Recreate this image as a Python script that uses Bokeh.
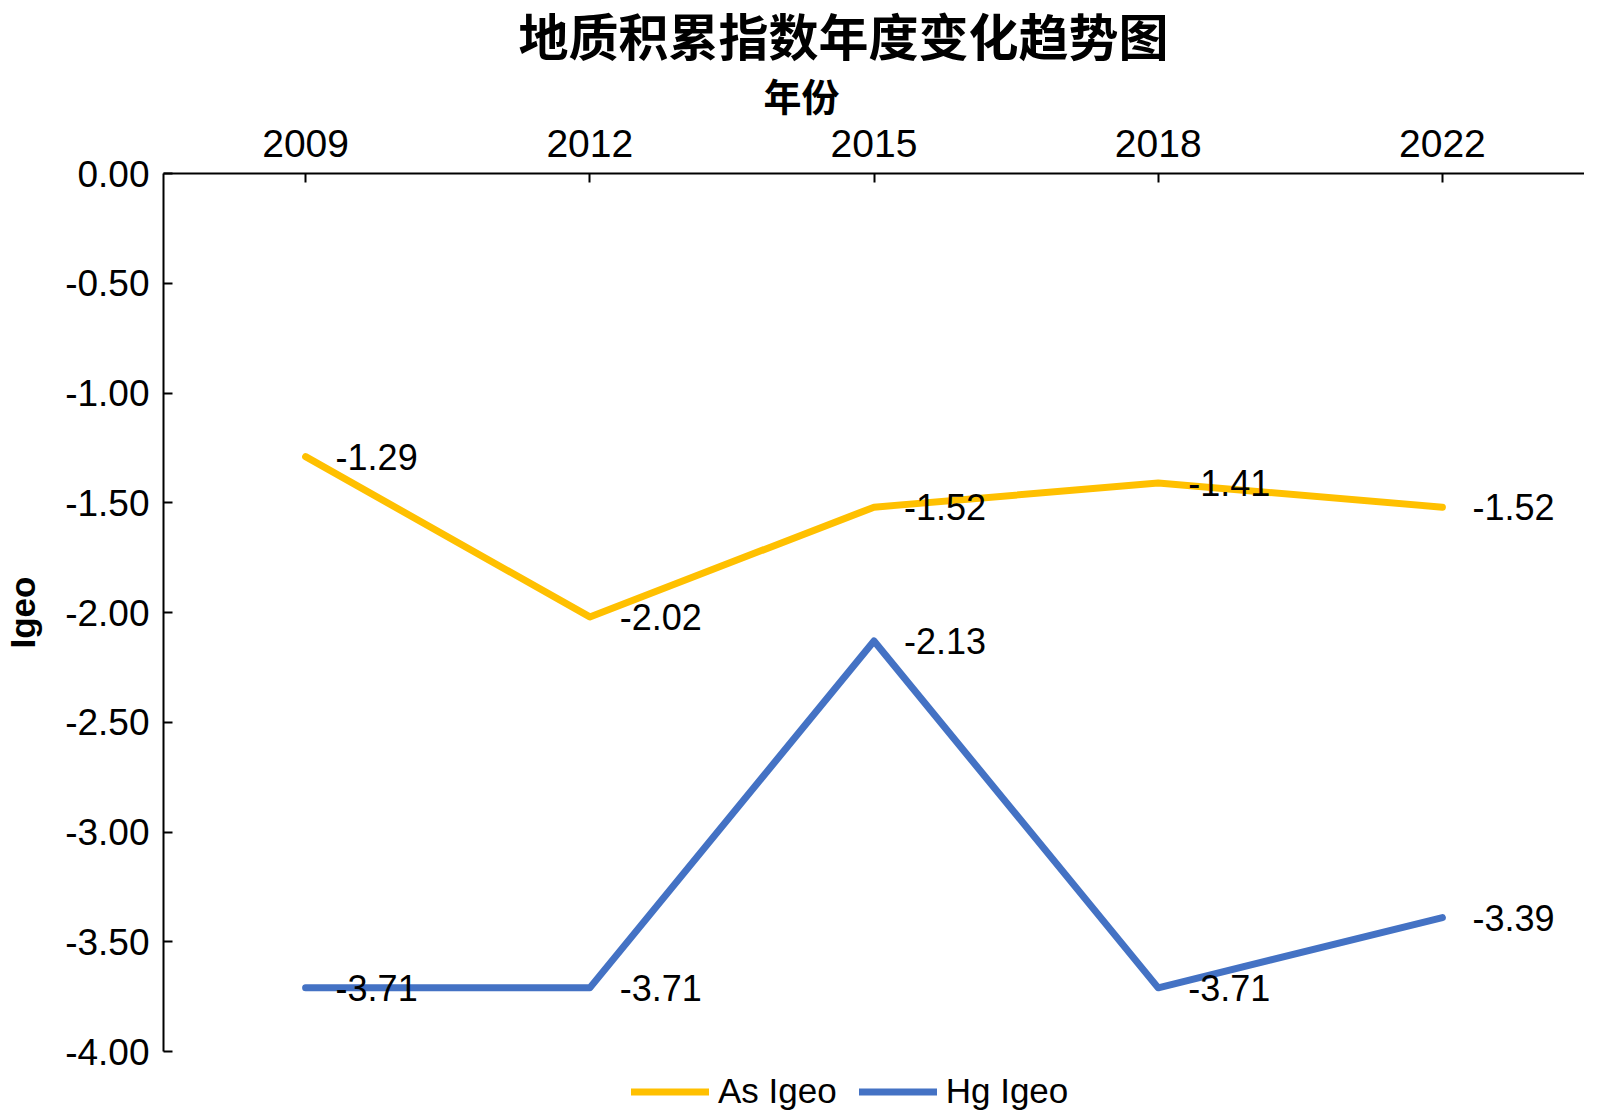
from bokeh.plotting import figure
from bokeh.layouts import column
from bokeh.models import (FactorRange, Range1d, ColumnDataSource, LabelSet, Legend,
                          LegendItem, Title, FixedTicker, NumeralTickFormatter)
from bokeh.core.properties import value
from bokeh.embed import file_html
from bokeh.resources import INLINE

# ---- data ----
years = ["2009", "2012", "2015", "2018", "2022"]
as_igeo = [-1.29, -2.02, -1.52, -1.41, -1.52]
hg_igeo = [-3.71, -3.71, -2.13, -3.71, -3.39]
y_ticks = [0.0, -0.5, -1.0, -1.5, -2.0, -2.5, -3.0, -3.5, -4.0]
y_min, y_max = -4.0, 0.0
series_names = ["As Igeo", "Hg Igeo"]
series_colors = ["#FFC000", "#4472C4"]
title_text = "地质积累指数年度变化趋势图"
x_title = "年份"
y_title = "Igeo"

NUM_FONT = "Liberation Sans"
TITLE_FONT = "Liberation Sans, Noto Sans CJK SC"

W = 1584
H_MAIN, H_LEG = 1072, 40

p = figure(width=W, height=H_MAIN,
           x_range=FactorRange(*years), y_range=Range1d(y_min, y_max),
           x_axis_location="above", output_backend="svg", toolbar_location=None,
           min_border_left=157, min_border_right=0, min_border_top=173,
           min_border_bottom=H_MAIN - 1051)
p.outline_line_color = None
p.grid.visible = False
p.background_fill_color = "white"
p.border_fill_color = "white"

# x axis (top)
xa = p.xaxis[0]
xa.major_label_text_font = NUM_FONT
xa.major_label_text_font_size = "39px"
xa.major_label_text_color = "black"
xa.major_tick_in = 9
xa.major_tick_out = 0
xa.major_tick_line_width = 2
xa.axis_line_width = 2
xa.axis_line_color = "black"
xa.major_tick_line_color = "black"
xa.major_label_standoff = 17

# y axis
ya = p.yaxis[0]
ya.ticker = FixedTicker(ticks=y_ticks)
ya.formatter = NumeralTickFormatter(format="0.00")
ya.major_label_text_font = NUM_FONT
ya.major_label_text_font_size = "37px"
ya.major_label_text_color = "black"
ya.major_tick_in = 9
ya.major_tick_out = 0
ya.minor_tick_in = 0
ya.minor_tick_out = 0
ya.major_tick_line_width = 2
ya.axis_line_width = 2
ya.axis_line_color = "black"
ya.major_tick_line_color = "black"
ya.major_label_standoff = 14
ya.axis_label = y_title
ya.axis_label_text_font = NUM_FONT
ya.axis_label_text_font_size = "35px"
ya.axis_label_text_font_style = "bold"
ya.axis_label_text_color = "black"
ya.axis_label_standoff = 20

# lines
src_as = ColumnDataSource(dict(x=years, y=as_igeo, t=[f"{v:.2f}" for v in as_igeo]))
src_hg = ColumnDataSource(dict(x=years, y=hg_igeo, t=[f"{v:.2f}" for v in hg_igeo]))
p.line("x", "y", source=src_as, line_color=series_colors[0], line_width=7,
       line_join="round", line_cap="round")
p.line("x", "y", source=src_hg, line_color=series_colors[1], line_width=7,
       line_join="round", line_cap="round")

for src in (src_as, src_hg):
    p.add_layout(LabelSet(x="x", y="y", text="t", source=src, x_offset=30, y_offset=0,
                          text_align="left", text_baseline="middle",
                          text_font=value(NUM_FONT), text_font_size=value("36px"),
                          text_color="black"))

# titles
t_x = Title(text=x_title, align="left", offset=600, text_font=TITLE_FONT,
            text_font_size="38px", text_font_style="bold", text_color="black", standoff=16)
p.add_layout(t_x, "above")
t_main = Title(text=title_text, align="left", offset=355, text_font=TITLE_FONT,
               text_font_size="50px", text_font_style="bold", text_color="black", standoff=0)
p.add_layout(t_main, "above")

# legend strip below the chart (its frame is aligned with the main chart's frame)
p2 = figure(width=W, height=H_LEG, x_range=Range1d(0, 1), y_range=Range1d(0, 1),
            output_backend="svg", toolbar_location=None, x_axis_type=None,
            y_axis_type=None, min_border=0)
p2.outline_line_color = None
p2.grid.visible = False
nan = float("nan")
leg_r = [p2.line(x=[nan], y=[nan], line_color=c, line_width=7, line_cap="round")
         for c in series_colors]
legend = Legend(items=[LegendItem(label=n, renderers=[r]) for n, r in zip(series_names, leg_r)],
                orientation="horizontal", location=(468, 1),
                label_text_font=NUM_FONT, label_text_font_size="35px",
                label_text_color="black", glyph_width=78, glyph_height=39,
                label_height=39, label_standoff=9, spacing=22, padding=0, margin=0,
                border_line_color=None, background_fill_alpha=0)
p2.add_layout(legend, "center")

layout = column(p, p2, spacing=0)
open("out.html", "w").write(file_html(layout, INLINE))
